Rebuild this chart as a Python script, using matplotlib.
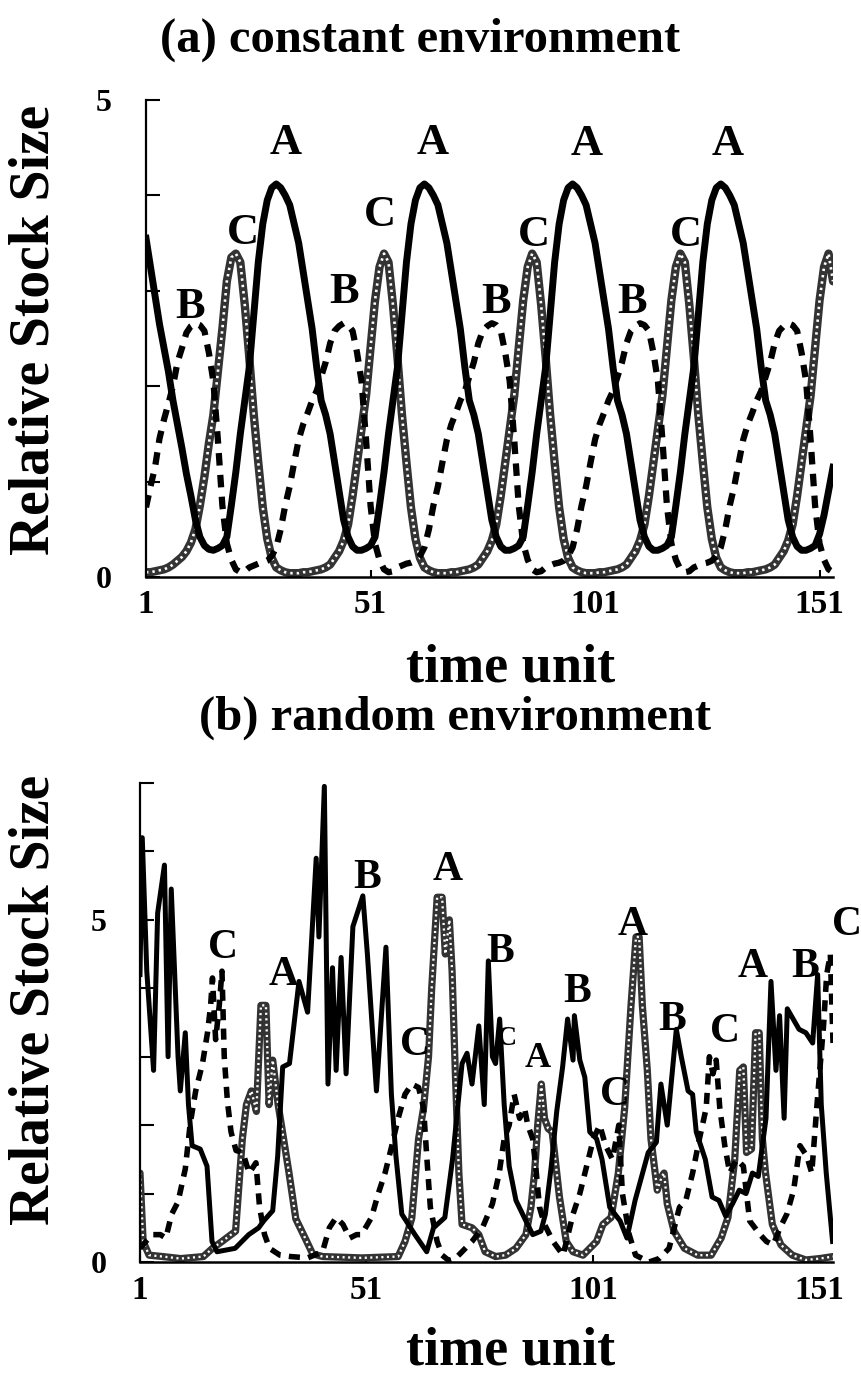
import numpy as np
import matplotlib
matplotlib.use("Agg")
import matplotlib.pyplot as plt

plt.rcParams['font.family'] = ['Liberation Serif', 'DejaVu Serif']
plt.rcParams['font.weight'] = 'bold'

# ---- (a) constant environment, one value per time unit (t = 1..154)
time_a = np.arange(1, 155)

stock_a_A = [
    3.55, 3.25, 2.95, 2.65, 2.4, 2.15, 1.85, 1.6, 1.35, 1.08, 0.85, 0.6, 0.42, 0.33, 0.29,
    0.28, 0.30, 0.33, 0.42, 0.75, 1.1, 1.5, 1.85, 2.2, 2.75, 3.3, 3.7, 3.95, 4.08, 4.12, 4.08, 4.0,
    3.9, 3.7, 3.5, 3.2, 2.9, 2.6, 2.2, 1.85, 1.7, 1.5, 1.2, 0.9, 0.6, 0.42, 0.32, 0.28,
    0.28, 0.30, 0.33, 0.42, 0.75, 1.1, 1.5, 1.85, 2.2, 2.75, 3.3, 3.7, 3.95, 4.08, 4.12, 4.08, 4.0,
    3.9, 3.7, 3.5, 3.2, 2.9, 2.6, 2.2, 1.85, 1.7, 1.5, 1.2, 0.9, 0.6, 0.42, 0.32, 0.28,
    0.28, 0.30, 0.33, 0.42, 0.75, 1.1, 1.5, 1.85, 2.2, 2.75, 3.3, 3.7, 3.95, 4.08, 4.12, 4.08, 4.0,
    3.9, 3.7, 3.5, 3.2, 2.9, 2.6, 2.2, 1.85, 1.7, 1.5, 1.2, 0.9, 0.6, 0.42, 0.32, 0.28,
    0.28, 0.30, 0.33, 0.42, 0.75, 1.1, 1.5, 1.85, 2.2, 2.75, 3.3, 3.7, 3.95, 4.08, 4.12, 4.08, 4.0,
    3.9, 3.7, 3.5, 3.2, 2.9, 2.6, 2.2, 1.85, 1.7, 1.5, 1.2, 0.9, 0.6, 0.42, 0.32, 0.28,
    0.28, 0.30, 0.33, 0.45, 0.65, 0.9, 1.15,
]

stock_a_B = [
    0.73, 0.95, 1.15, 1.45, 1.65, 1.82, 2.0, 2.25, 2.4, 2.56, 2.63, 2.66,
    2.64, 2.58, 2.35, 2.05, 1.44, 0.75, 0.35, 0.18, 0.08, 0.05, 0.06, 0.1, 0.12, 0.14, 0.15, 0.17,
    0.22, 0.31, 0.5, 0.75, 0.95, 1.2, 1.44, 1.6, 1.72, 1.85, 1.95, 2.1, 2.25, 2.45, 2.58, 2.63, 2.66,
    2.64, 2.58, 2.35, 2.05, 1.44, 0.75, 0.35, 0.18, 0.08, 0.05, 0.06, 0.1, 0.12, 0.14, 0.15, 0.17,
    0.22, 0.31, 0.5, 0.75, 0.95, 1.2, 1.44, 1.6, 1.72, 1.85, 1.95, 2.1, 2.25, 2.45, 2.58, 2.63, 2.66,
    2.64, 2.58, 2.35, 2.05, 1.44, 0.75, 0.35, 0.18, 0.08, 0.05, 0.06, 0.1, 0.12, 0.14, 0.15, 0.17,
    0.22, 0.31, 0.5, 0.75, 0.95, 1.2, 1.44, 1.6, 1.72, 1.85, 1.95, 2.1, 2.25, 2.45, 2.58, 2.63, 2.66,
    2.64, 2.58, 2.35, 2.05, 1.44, 0.75, 0.35, 0.18, 0.08, 0.05, 0.06, 0.1, 0.12, 0.14, 0.15, 0.17,
    0.22, 0.31, 0.5, 0.75, 0.95, 1.2, 1.44, 1.6, 1.72, 1.85, 1.95, 2.1, 2.25, 2.45, 2.58, 2.63, 2.66,
    2.64, 2.58, 2.35, 2.05, 1.44, 0.75, 0.35, 0.18, 0.08, 0.05,
]

stock_a_C = [
    0.05, 0.05, 0.06, 0.07, 0.08, 0.1, 0.13, 0.17, 0.21, 0.27, 0.36, 0.5, 0.75, 1.05, 1.4, 1.7,
    2.15, 2.6, 3.1, 3.35, 3.39,
    3.3, 2.85, 2.3, 1.7, 1.2, 0.73, 0.4, 0.2, 0.1, 0.07, 0.05, 0.04, 0.04, 0.04, 0.05, 0.05, 0.06,
    0.07, 0.08, 0.1, 0.13, 0.2, 0.27, 0.38, 0.55, 0.85, 1.2, 1.55, 1.9, 2.4, 2.9, 3.25, 3.39,
    3.3, 2.85, 2.3, 1.7, 1.2, 0.73, 0.4, 0.2, 0.1, 0.07, 0.05, 0.04, 0.04, 0.04, 0.05, 0.05, 0.06,
    0.07, 0.08, 0.1, 0.13, 0.2, 0.27, 0.38, 0.55, 0.85, 1.2, 1.55, 1.9, 2.4, 2.9, 3.25, 3.39,
    3.3, 2.85, 2.3, 1.7, 1.2, 0.73, 0.4, 0.2, 0.1, 0.07, 0.05, 0.04, 0.04, 0.04, 0.05, 0.05, 0.06,
    0.07, 0.08, 0.1, 0.13, 0.2, 0.27, 0.38, 0.55, 0.85, 1.2, 1.55, 1.9, 2.4, 2.9, 3.25, 3.39,
    3.3, 2.85, 2.3, 1.7, 1.2, 0.73, 0.4, 0.2, 0.1, 0.07, 0.05, 0.04, 0.04, 0.04, 0.05, 0.05, 0.06,
    0.07, 0.08, 0.1, 0.13, 0.2, 0.27, 0.38, 0.55, 0.85, 1.2, 1.55, 1.9, 2.4, 2.9, 3.25, 3.39,
    3.1,
]

# peak labels in panel (a): letter, time, stock
labels_a = [
    ("A", 32.0, 4.55), ("A", 64.9, 4.55), ("A", 99.2, 4.54), ("A", 130.6, 4.54),
    ("C", 22.6, 3.61), ("C", 53.1, 3.79), ("C", 87.4, 3.58), ("C", 121.3, 3.58),
    ("B", 10.8, 2.83), ("B", 45.1, 2.99), ("B", 78.9, 2.88), ("B", 109.2, 2.88),
]

# ---- (b) random environment, vertices
time_b_A = [1, 1.5, 2.5, 4, 4.9, 6.4, 7.2, 7.9, 9.4, 9.9, 11, 11.7, 12.5, 14.3, 15.8, 16.9, 18,
            22, 25, 27.2, 28.3, 30.3, 31.4, 32.5, 34, 36.1, 38, 39.9, 40.5, 41.7, 42.5, 43.5,
            44.3, 45.4, 46.5, 48, 50.2, 51.2, 53.2, 55.3, 56.5, 57.5, 58.8, 61.7, 64.3, 65.8,
            68.3, 70, 72.1, 73.2, 74.3, 75.8, 77, 77.9, 78.8, 79.5, 80.4, 81.4, 82.5, 84, 86.2,
            87.7, 89.5, 90.5, 91.8, 93, 94.3, 95.4, 96.6, 96.9, 98.1, 99.2, 100.3, 101.8, 103,
            104.7, 107, 108.5, 110.3, 113.2, 115, 116, 117.4, 119.4, 120.5, 122, 123, 123.8,
            125.8, 127.3, 128.8, 130.3, 131.8, 133.3, 134.8, 136.2, 137.5, 139.2, 140.3, 141.4,
            142.2, 143.2, 143.9, 146.5, 148, 149.5, 150.6, 151.4, 152.5, 153.9]
stock_b_A = [4.2, 6.2, 4.25, 2.8, 5.1, 5.8, 3.0, 5.45, 3.0, 2.5, 3.35, 2.3, 1.7, 1.65, 1.4, 0.3, 0.15,
             0.2, 0.4, 0.5, 0.6, 0.75, 1.55, 2.85, 2.9, 4.1, 3.65, 5.9, 4.75, 6.95, 2.6, 4.3,
             2.8, 4.45, 2.75, 4.9, 5.35, 4.5, 2.5, 4.6, 2.45, 1.55, 0.7, 0.4, 0.15, 0.5,
             0.65, 1.5, 2.9, 3.05, 2.6, 3.45, 2.3, 4.4, 3.0, 2.9, 3.55, 2.3, 1.4, 0.9, 0.6,
             0.4, 0.45, 0.7, 1.4, 2.2, 2.85, 3.55, 2.95, 3.6, 2.95, 2.7, 1.9, 1.8, 1.5,
             0.8, 0.6, 0.35, 0.9, 1.6, 1.75, 2.6, 2.0, 3.4, 3.0, 2.5, 2.45, 1.9,
             1.5, 0.95, 0.9, 0.67, 0.85, 1.05, 1.0, 1.3, 1.25, 2.1, 4.1, 2.8,
             3.6, 2.1, 3.7, 3.4, 3.35, 3.2, 4.2, 2.3, 1.3, 0.3]

time_b_B = [1, 2.3, 3.7, 5.5, 6.7, 8, 9.4, 11, 12.1, 13.3, 14.8, 15.9, 16.6, 17, 17.7, 18.5, 19.1,
            19.6, 20.3, 21.1, 22.2, 23.7, 25.1, 26.6, 27.4, 28.5, 29.6, 31.9, 34.2, 38, 41.3,
            42.8, 44.3, 45.8, 47.3, 48.8, 49.9, 52.1, 53.6, 55.1, 56.6, 58, 59.5, 61, 62.5, 63.6,
            64.3, 65.1, 66.6, 67.7, 69.2, 70.6, 72.1, 74.3, 76.6, 78.8, 80.3, 81.4, 82.5, 83.6,
            84.8, 85.9, 86.6, 87.7, 88.5, 89.2, 90.3, 92.2, 94.4, 96.6, 98.1, 99.6, 101.1, 102.5,
            103.8, 105.3, 106.7, 107.5, 109, 110.4, 113.4, 115.6, 117.8, 120.1, 121.5, 123,
            124.5, 126, 126.7, 127.5, 128.2, 129, 130.1, 131.2, 132.7, 134.2, 135.6, 137.9,
            139.3, 140.8, 142.3, 143.8, 145.3, 146.7, 148.2, 149.3, 150.4, 151.2, 151.9, 152.6,
            153.4, 154]
stock_b_B = [0.2, 0.3, 0.4, 0.4, 0.35, 0.7, 0.88, 1.36, 2.03, 2.5, 2.9, 3.35, 3.75, 4.15, 3.25, 3.75,
             4.25, 3.0, 2.35, 1.9, 1.63, 1.6, 1.3, 1.45, 0.8, 0.4, 0.2, 0.1, 0.08, 0.06, 0.15,
             0.5, 0.65, 0.55, 0.35, 0.4, 0.4, 0.65, 1.0, 1.3, 1.7, 2.1, 2.45, 2.6, 2.55, 2.25,
             1.55, 0.8, 0.3, 0.1, 0.02, 0.05, 0.15, 0.3, 0.5, 0.85, 1.3, 1.8, 2.0, 2.45,
             2.1, 2.25, 2.0, 1.8, 1.3, 0.8, 0.55, 0.3, 0.1, 0.7, 1.0, 1.4, 1.8, 2.0,
             1.7, 1.5, 2.0, 1.0, 0.4, 0.1, 0.0, 0.05, 0.2, 0.8, 0.9, 1.3,
             1.8, 2.25, 3.0, 2.75, 2.95, 2.25, 1.7, 1.3, 1.5, 1.4, 0.6, 0.4,
             0.3, 0.25, 0.5, 0.7, 1.05, 1.7, 1.55, 1.3, 2.25, 2.9, 3.45, 4.2,
             4.5, 3.2]

time_b_C = [1, 1.7, 3, 6, 10, 15, 17, 19.1, 22.1, 23.6, 24.5, 25.6, 26.7, 27.7, 28.8, 29.5, 30.3,
            31.5, 33.9, 35.4, 37.6, 39.1, 41.3, 50, 58, 59.5, 61, 62.5, 63.6, 64.7, 65.4, 66.6,
            67.7, 68.4, 69.3, 69.9, 70.6, 71.4, 72.1, 74.3, 75.8, 77.2, 79.5, 81.7, 84, 86.2,
            87.3, 88.1, 88.8, 89.6, 90.3, 91.1, 92, 93.6, 95.1, 96.6, 98.8, 101.8, 103.2, 105,
            106.6, 108, 109.4, 110.5, 111.2, 111.9, 113, 113.8, 115.2, 116.2, 116.7, 117.4,
            118.9, 121.2, 124.1, 127.1, 129.3, 130.8, 132.3, 133.4, 134.2, 134.9, 136, 136.9,
            137.7, 138.4, 139.1, 140.6, 142.5, 145, 148, 151, 154]
stock_b_C = [1.3, 0.3, 0.1, 0.08, 0.05, 0.08, 0.2, 0.3, 0.45, 1.8, 2.3, 2.5, 2.2, 3.75, 3.75, 2.3, 2.95,
             2.3, 1.3, 0.63, 0.33, 0.12, 0.08, 0.06, 0.08, 0.3, 0.64, 1.8, 2.25, 3.0, 4.0, 5.33,
             5.33, 4.5, 5.0, 4.25, 2.8, 1.3, 0.55, 0.5, 0.4, 0.15, 0.08, 0.1, 0.2, 0.4,
             0.8, 1.3, 2.0, 2.6, 2.1, 1.95, 1.9, 0.95, 0.3, 0.15, 0.1, 0.3, 0.55, 0.65,
             1.3, 2.25, 3.75, 4.75, 4.75, 3.75, 2.8, 1.8, 1.05, 1.25, 1.3, 0.85,
             0.45, 0.2, 0.1, 0.1, 0.35, 0.65, 1.5, 2.8, 2.85, 1.6, 1.65, 3.35,
             3.35, 1.8, 1.3, 0.55, 0.25, 0.1, 0.03, 0.05, 0.08]

# peak labels in panel (b): letter, time, stock, font size
labels_b = [
    ("C", 19.3, 4.59, 30), ("A", 32.6, 4.2, 30), ("B", 51.1, 5.61, 30), ("A", 69.0, 5.73, 30),
    ("C", 61.7, 3.17, 30), ("B", 80.5, 4.53, 30), ("C", 82.0, 3.27, 20), ("A", 88.9, 2.98, 26),
    ("B", 97.5, 3.95, 30), ("A", 109.8, 4.93, 30), ("C", 105.9, 2.44, 30), ("B", 118.4, 3.54, 30),
    ("C", 130.1, 3.36, 30), ("A", 136.3, 4.31, 30), ("B", 147.8, 4.31, 30), ("C", 157.1, 4.93, 30),
]

xticks = [1, 51, 101, 151]


def beaded(ax, t, v, lw):
    # thick dark line with white dots inside, like the scanned grey series
    ax.plot(t, v, color='#333333', lw=lw, solid_joinstyle='round', solid_capstyle='round')
    ax.plot(t, v, color='white', lw=lw * 0.32, linestyle=(0, (0.9, 1.5)))


def style_axes(ax, ymax, pad):
    ax.set_xlim(1, 154)
    ax.set_ylim(0, ymax)
    for side in ('top', 'right'):
        ax.spines[side].set_visible(False)
    ax.spines['left'].set_linewidth(1.6)
    ax.spines['bottom'].set_linewidth(1.8)
    ax.set_xticks(xticks)
    ax.set_xticklabels([str(x) for x in xticks], fontsize=24, fontweight='bold')
    ax.set_yticks(range(ymax + 1))
    ax.set_yticklabels(['0' if y == 0 else '5' if y == 5 else '' for y in range(ymax + 1)],
                       fontsize=23, fontweight='bold')
    ax.tick_params(axis='y', direction='in', length=10, width=1.5, pad=pad)
    ax.tick_params(axis='x', direction='in', length=5, width=1.5, pad=9)


fig = plt.figure(figsize=(8.62, 13.85), dpi=100)

ax1 = fig.add_axes([0.1694, 0.5834, 0.797, 0.3444])
beaded(ax1, time_a, stock_a_C, 6.0)
ax1.plot(time_a, stock_a_B, color='black', lw=4.5, linestyle=(0, (2.0, 1.5)))
ax1.plot(time_a, stock_a_A, color='black', lw=5.0, solid_joinstyle='round')
for letter, t, v in labels_a:
    ax1.text(t, v, letter, fontsize=32, fontweight='bold', ha='center', va='center')
style_axes(ax1, 5, 25)

ax2 = fig.add_axes([0.1624, 0.0888, 0.804, 0.3459])
beaded(ax2, time_b_C, stock_b_C, 5.2)
ax2.plot(time_b_B, stock_b_B, color='black', lw=4.0, linestyle=(0, (2.0, 1.5)))
ax2.plot(time_b_A, stock_b_A, color='black', lw=3.6, solid_joinstyle='round')
for letter, t, v, size in labels_b:
    ax2.text(t, v, letter, fontsize=size, fontweight='bold', ha='center', va='center')
style_axes(ax2, 7, 24)

fig.text(0.487, 0.971, "(a) constant environment", fontsize=35, fontweight='bold',
         ha='center', va='center')
fig.text(0.528, 0.4816, "(b) random environment", fontsize=35, fontweight='bold',
         ha='center', va='center')
fig.text(0.592, 0.517, "time unit", fontsize=39, fontweight='bold', ha='center', va='center')
fig.text(0.592, 0.0245, "time unit", fontsize=39, fontweight='bold', ha='center', va='center')
fig.text(0.0406, 0.762, "Relative Stock Size", fontsize=40, fontweight='bold',
         rotation=90, ha='center', va='center')
fig.text(0.0406, 0.278, "Relative Stock Size", fontsize=40, fontweight='bold',
         rotation=90, ha='center', va='center')

fig.savefig("out.png", dpi=100)
